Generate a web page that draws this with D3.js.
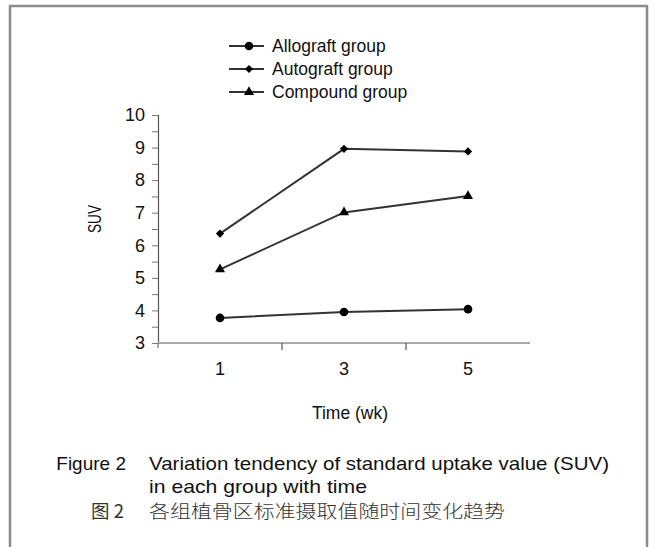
<!DOCTYPE html>
<html>
<head>
<meta charset="utf-8">
<script src="https://cdn.jsdelivr.net/npm/d3@7"></script>
<style>
  body { margin: 0; background: #fff; }
  svg { display: block; font-family: "Liberation Sans", Arial, sans-serif; }
</style>
</head>
<body>
<div id="chart"></div>
<script>
// data
var weeks = ['1', '3', '5'];
var allograft = [3.77, 3.95, 4.04];
var autograft = [6.36, 8.96, 8.88];
var compound = [5.26, 7.01, 7.51];
var seriesNames = ['Allograft group', 'Autograft group', 'Compound group'];
var yTicks = [3, 3.5, 4, 4.5, 5, 5.5, 6, 6.5, 7, 7.5, 8, 8.5, 9, 9.5, 10];

var width = 654, height = 547;

var svg = d3.select('#chart').append('svg')
  .attr('width', width)
  .attr('height', height);

// outer frame (open at the bottom)
svg.append('path')
  .attr('d', 'M10,547 V6 H647 V547')
  .attr('fill', 'none')
  .attr('stroke', '#8c8c8c')
  .attr('stroke-width', 2.5);

var x = d3.scaleBand().domain(weeks).range([158, 530]);
var y = d3.scaleLinear().domain([3, 10]).range([343, 115]);

// y axis
var yAxis = svg.append('g')
  .attr('transform', 'translate(158,0)')
  .call(d3.axisLeft(y)
    .tickValues(yTicks)
    .tickSize(6)
    .tickPadding(7)
    .tickFormat(function(d) { return d % 1 === 0 ? d : ''; }));
yAxis.select('.domain').attr('stroke', '#555').attr('stroke-width', 1.2);
yAxis.selectAll('.tick line').attr('stroke', '#777');
yAxis.selectAll('.tick text')
  .attr('font-size', 18)
  .attr('fill', '#111')
  .attr('font-family', '"Liberation Sans", Arial, sans-serif');

// x axis
svg.append('line')
  .attr('x1', 158).attr('x2', 530)
  .attr('y1', 343).attr('y2', 343)
  .attr('stroke', '#aaa')
  .attr('stroke-width', 2);
svg.append('line')
  .attr('x1', 158).attr('x2', 158)
  .attr('y1', 343).attr('y2', 348)
  .attr('stroke', '#555');
svg.selectAll('.xtick')
  .data(weeks.slice(1))
  .enter().append('line')
  .attr('class', 'xtick')
  .attr('x1', function(d) { return x(d); })
  .attr('x2', function(d) { return x(d); })
  .attr('y1', 343).attr('y2', 350)
  .attr('stroke', '#333');
svg.selectAll('.xlabel')
  .data(weeks)
  .enter().append('text')
  .attr('class', 'xlabel')
  .attr('x', function(d) { return x(d) + x.bandwidth() / 2; })
  .attr('y', 375)
  .attr('text-anchor', 'middle')
  .attr('font-size', 18)
  .attr('fill', '#111')
  .text(function(d) { return d; });

svg.append('text')
  .attr('x', 350).attr('y', 419)
  .attr('text-anchor', 'middle')
  .attr('font-size', 17.5)
  .attr('fill', '#111')
  .text('Time (wk)');

svg.append('text')
  .attr('transform', 'translate(101,219) rotate(-90)')
  .attr('text-anchor', 'middle')
  .attr('font-size', 19)
  .attr('textLength', 28)
  .attr('lengthAdjust', 'spacingAndGlyphs')
  .attr('fill', '#111')
  .text('SUV');

// markers: circle, diamond (rotated square), triangle
var markers = [
  { type: d3.symbolCircle, size: 58, rot: 0 },
  { type: d3.symbolSquare, size: 34, rot: 45 },
  { type: d3.symbolTriangle, size: 44, rot: 0 }
];

var series = [allograft, autograft, compound];
var line = d3.line()
  .x(function(d, i) { return x(weeks[i]) + x.bandwidth() / 2; })
  .y(function(d) { return y(d); });

series.forEach(function(vals, s) {
  svg.append('path')
    .datum(vals)
    .attr('d', line)
    .attr('fill', 'none')
    .attr('stroke', '#333')
    .attr('stroke-width', 2);
  svg.selectAll('.pt' + s)
    .data(vals)
    .enter().append('path')
    .attr('class', 'pt' + s)
    .attr('transform', function(d, i) {
      return 'translate(' + (x(weeks[i]) + x.bandwidth() / 2) + ',' + y(d) + ') rotate(' + markers[s].rot + ')';
    })
    .attr('d', d3.symbol().type(markers[s].type).size(markers[s].size))
    .attr('fill', '#000');
});

// legend
var legend = svg.selectAll('.legend')
  .data(seriesNames)
  .enter().append('g')
  .attr('class', 'legend')
  .attr('transform', function(d, i) { return 'translate(0,' + (46 + i * 23) + ')'; });

legend.append('line')
  .attr('x1', 229).attr('x2', 264)
  .attr('stroke', '#333')
  .attr('stroke-width', 2);
legend.append('path')
  .attr('transform', function(d, i) { return 'translate(249,0) rotate(' + markers[i].rot + ')'; })
  .attr('d', function(d, i) { return d3.symbol().type(markers[i].type).size(markers[i].size)(); })
  .attr('fill', '#000');
legend.append('text')
  .attr('x', 272)
  .attr('dy', '0.35em')
  .attr('font-size', 17.5)
  .attr('fill', '#111')
  .text(function(d) { return d; });

// caption
var cap = svg.append('g').attr('font-size', 19).attr('fill', '#111');
cap.append('text').attr('x', 126).attr('y', 470).attr('text-anchor', 'end').text('Figure 2');
cap.append('text').attr('x', 149).attr('y', 470)
  .attr('textLength', 460).attr('lengthAdjust', 'spacingAndGlyphs')
  .text('Variation tendency of standard uptake value (SUV)');
cap.append('text').attr('x', 149).attr('y', 493)
  .attr('textLength', 218).attr('lengthAdjust', 'spacingAndGlyphs')
  .text('in each group with time');
cap.append('text').attr('x', 124).attr('y', 518).attr('text-anchor', 'end')
  .attr('font-family', '"Noto Sans CJK SC", sans-serif').attr('fill', '#333')
  .attr('font-size', 18.5).text('图 2');
cap.append('text').attr('x', 149).attr('y', 518)
  .attr('font-family', '"Noto Sans CJK SC", sans-serif').attr('fill', '#333')
  .attr('font-weight', 300).attr('font-size', 18.5)
  .attr('textLength', 356).attr('lengthAdjust', 'spacingAndGlyphs')
  .text('各组植骨区标准摄取值随时间变化趋势');
</script>
</body>
</html>
